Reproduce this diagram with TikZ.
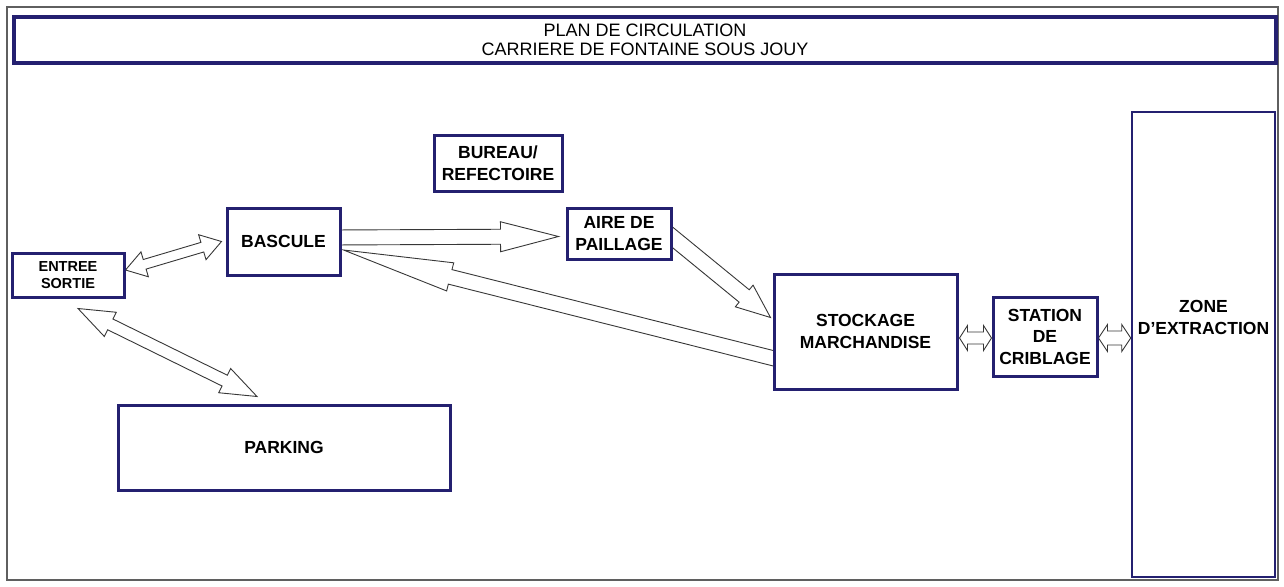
\documentclass[tikz,border=0pt]{standalone}
\usepackage{fontspec}
\setmainfont{Liberation Sans}
\usetikzlibrary{calc, backgrounds}
\definecolor{navy}{RGB}{36,32,112}
\definecolor{framegray}{RGB}{95,95,95}
\definecolor{arrowgray}{RGB}{55,55,55}

% hollow block arrow: tail, tip, half shaft, half head, head length
\newcommand{\flowarrow}[5]{%
  \path ($(#2)!#5!(#1)$) coordinate (hb);
  \draw[flow] ($(#1)!#3!90:(#2)$) -- ($(hb)!#3!90:(#2)$) -- ($(hb)!#4!90:(#2)$)
    -- (#2) -- ($(hb)!#4!-90:(#2)$) -- ($(hb)!#3!-90:(#2)$)
    -- ($(#1)!#3!-90:(#2)$) -- cycle;
}
% same, with a head at both ends
\newcommand{\twowayarrow}[5]{%
  \path ($(#1)!#5!(#2)$) coordinate (hb1) ($(#2)!#5!(#1)$) coordinate (hb2);
  \draw[flow] (#1) -- ($(hb1)!#4!90:(#2)$) -- ($(hb1)!#3!90:(#2)$)
    -- ($(hb2)!#3!90:(#2)$) -- ($(hb2)!#4!90:(#2)$) -- (#2)
    -- ($(hb2)!#4!-90:(#2)$) -- ($(hb2)!#3!-90:(#2)$)
    -- ($(hb1)!#3!-90:(#2)$) -- ($(hb1)!#4!-90:(#2)$) -- cycle;
}

\begin{document}
\begin{tikzpicture}[x=1pt, y=-1pt,
  box/.style={rectangle, draw=navy, line width=3pt, fill=white,
              inner sep=0pt, align=center,
              font=\fontsize{17.5}{21.5}\selectfont\bfseries},
  txt/.style={align=center, font=\fontsize{17.5}{22.5}\selectfont\bfseries},
  flow/.style={draw=arrowgray, line width=0.9pt, fill=white, line join=miter}
]
  \useasboundingbox (0,0) rectangle (1284,586);
  \draw[framegray, line width=1.2pt] (7,7) rectangle (1278,580);

  \node[box, line width=3.6pt, minimum width=1262pt, minimum height=46pt,
        font=\fontsize{18}{19.5}\selectfont] (title) at (645,40)
        {PLAN DE CIRCULATION\\CARRIERE DE FONTAINE SOUS JOUY};

  \node[box, minimum width=112pt, minimum height=44pt,
        font=\fontsize{14.5}{17}\selectfont\bfseries] (entree) at (68,275) {ENTREE\\SORTIE};
  \node[box, minimum width=113pt, minimum height=67pt] (bascule) at (283.5,241.5) {BASCULE};
  \node[box, minimum width=128pt, minimum height=56pt] (bureau) at (498,163) {BUREAU/\\REFECTOIRE};
  \node[box, minimum width=104pt, minimum height=51pt] (aire) at (619,233.5) {AIRE DE\\PAILLAGE};
  \node[box, minimum width=183pt, minimum height=115pt] (stockage) at (865.5,331.5) {STOCKAGE\\MARCHANDISE};
  \node[box, minimum width=104pt, minimum height=79pt] (station) at (1045,336.5) {STATION\\DE\\CRIBLAGE};
  \node[box, line width=2.6pt, minimum width=143pt, minimum height=465pt] (zone) at (1203.5,344.5) {};
  \node[txt] (zonelbl) at ([yshift=27pt]zone.center) {ZONE\\D'EXTRACTION};
  \node[box, minimum width=332pt, minimum height=85pt] (parking) at (284,447.5) {PARKING};

  % arrow ends; tails start inside the boxes, which hide them
  \coordinate (eb1) at ([yshift=5pt]entree.east);
  \coordinate (eb2) at ([xshift=-4pt]bascule.west);
  \coordinate (ep1) at ([xshift=10pt,yshift=-10pt]entree.south);
  \coordinate (ep2) at ([xshift=-27pt,yshift=7pt]parking.north);
  \coordinate (ba1) at ([xshift=-10pt,yshift=4pt]bascule.east);
  \coordinate (ba2) at ([xshift=-7pt,yshift=-3pt]aire.west);
  \coordinate (as1) at ([xshift=-12pt,yshift=6pt]aire.east);
  \coordinate (as2) at ([xshift=-2pt,yshift=14pt]stockage.west);
  \coordinate (sb1) at ([xshift=13.6pt,yshift=-30pt]stockage.west);
  \coordinate (sb2) at ([xshift=2pt,yshift=-8.5pt]bascule.east);
  \coordinate (ss1) at ([xshift=1pt,yshift=-6.5pt]stockage.east);
  \coordinate (ss2) at ([yshift=-1.5pt]station.west);
  \coordinate (sz1) at ([yshift=-1.5pt]station.east);
  \coordinate (sz2) at ([yshift=6.5pt]zone.west);

  \begin{scope}[on background layer]
    \twowayarrow{eb1}{eb2}{5pt}{13pt}{20pt}
    \twowayarrow{ep1}{ep2}{6pt}{13.5pt}{36pt}
    \flowarrow{ba1}{ba2}{7.5pt}{15pt}{58pt}
    \flowarrow{as1}{as2}{8pt}{14pt}{34pt}
    \flowarrow{sb1}{sb2}{7.5pt}{14.5pt}{110pt}
    \twowayarrow{ss1}{ss2}{6pt}{12.5pt}{8pt}
    \twowayarrow{sz1}{sz2}{7pt}{13.5pt}{9pt}
  \end{scope}
\end{tikzpicture}
\end{document}
